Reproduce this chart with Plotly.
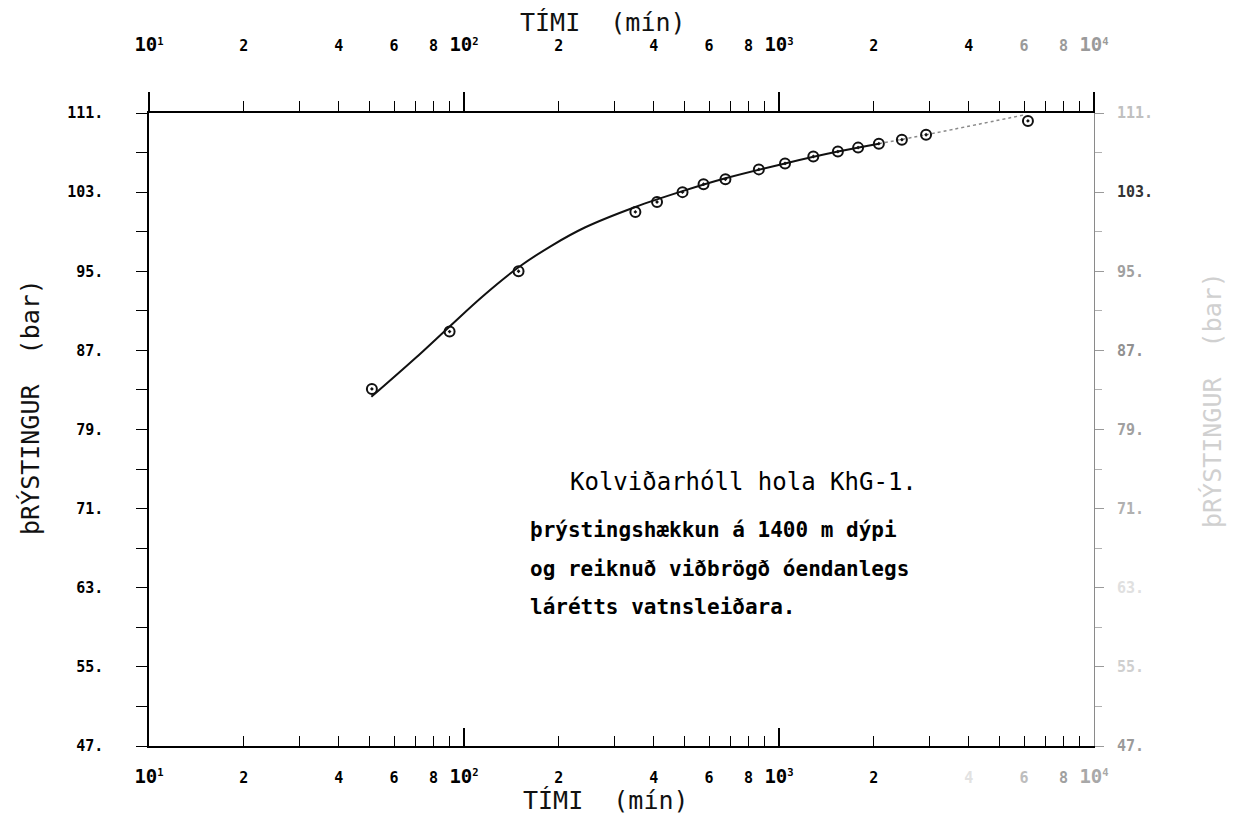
import plotly.graph_objects as go

# ---------------- data ----------------
time_min = [51, 90, 149, 350, 410, 494, 576, 676, 863, 1045, 1285, 1538, 1783, 2075, 2455, 2930, 6170]
pressure_bar = [83.1, 88.9, 95.0, 101.0, 102.0, 103.0, 103.8, 104.3, 105.3, 105.9,
                106.6, 107.1, 107.5, 107.9, 108.3, 108.8, 110.2]

model_time = [50.8, 70, 89.9, 115, 149, 190, 241, 350, 494, 676, 1045, 1538, 2075]
model_pressure = [82.3, 86.2, 89.4, 92.5, 95.4, 97.6, 99.4, 101.5, 103.1, 104.4, 105.9, 107.1, 107.9]

extrap_time = [2075, 2930, 5985]
extrap_pressure = [107.9, 108.8, 110.8]

x_tick_vals = [10, 20, 40, 60, 80, 100, 200, 400, 600, 800, 1000, 2000, 4000, 6000, 8000, 10000]
x_minor_vals = [30, 50, 70, 90, 300, 500, 700, 900, 3000, 5000, 7000, 9000]
x_decades = [10, 100, 1000, 10000]
x_tick_text_top = ["10<sup>1</sup>", "2", "4", "6", "8", "10<sup>2</sup>", "2", "4", "6", "8",
                   "10<sup>3</sup>", "2", "4", "6", "8", "10<sup>4</sup>"]
x_tick_text_bottom = list(x_tick_text_top)
top_label_colors = ["#000"] * 13 + ["#9a9a9a", "#9a9a9a", "#9a9a9a"]
bottom_label_colors = ["#000"] * 12 + ["#e2e2e2", "#bdbdbd", "#a0a0a0", "#a8a8a8"]

y_tick_vals = [47, 55, 63, 71, 79, 87, 95, 103, 111]
y_tick_text = ["47.", "55.", "63.", "71.", "79.", "87.", "95.", "103.", "111."]
y_minor_vals = [51, 59, 67, 75, 83, 91, 99, 107]
right_label_colors = ["#9a9a9a", "#cfcfcf", "#e0e0e0", "#b0b0b0", "#a0a0a0", "#909090",
                      "#a0a0a0", "#333333", "#c0c0c0"]

x_title = "TÍMI  (mín)"
y_title = "þRÝSTINGUR  (bar)"
note_title = "Kolviðarhóll hola KhG-1."
note_lines = ["þrýstingshækkun á 1400 m dýpi",
              "og reiknuð viðbrögð óendanlegs",
              "lárétts vatnsleiðara."]

# ---------------- helpers ----------------
def colored(texts, colors):
    out = []
    for t, c in zip(texts, colors):
        if t.startswith("10<sup>"):
            t = '<span style="font-size:19px">10</span>' + t[2:]
        out.append(f'<span style="color:{c}">{t}</span>')
    return out

MONO = "DejaVu Sans Mono"
W, H = 1235, 817
L, R, T, B = 149, 141, 113, 71
PW, PH = W - L - R, H - T - B

def px(x):
    return (x - L) / PW

def py(y):
    return (H - B - y) / PH

fig = go.Figure()

fig.add_trace(go.Scatter(
    x=model_time, y=model_pressure, mode="lines", line_shape="spline",
    line=dict(color="#111", width=2), showlegend=False, hoverinfo="skip"))
fig.add_trace(go.Scatter(
    x=extrap_time, y=extrap_pressure, mode="lines", line_shape="spline",
    line=dict(color="#8a8a8a", width=1.5, dash="dot"), showlegend=False, hoverinfo="skip"))
fig.add_trace(go.Scatter(
    x=time_min, y=pressure_bar, mode="markers", cliponaxis=False,
    marker=dict(symbol="circle-open-dot", size=10, color="#111", line=dict(width=2, color="#111")),
    showlegend=False))
# helper traces so that overlay axes are drawn
for xa, ya in [("x2", "y"), ("x3", "y"), ("x4", "y"), ("x", "y2")]:
    fig.add_trace(go.Scatter(x=[100], y=[80], xaxis=xa, yaxis=ya, mode="markers",
                             marker=dict(opacity=0), showlegend=False, hoverinfo="skip"))

tickfont = dict(family=MONO, size=15, color="#000", weight="bold")

common_x = dict(type="log", range=[1, 4], showgrid=False, zeroline=False)

fig.update_layout(
    width=W, height=H,
    margin=dict(l=L, r=R, t=T, b=B),
    paper_bgcolor="white", plot_bgcolor="white",
    xaxis=dict(**common_x, side="bottom", showline=True, linecolor="#000", linewidth=1.5,
               ticks="inside", ticklen=10, tickwidth=1.3, tickcolor="#000",
               tickmode="array", tickvals=x_tick_vals,
               ticktext=colored(x_tick_text_bottom, bottom_label_colors),
               tickfont=tickfont, ticklabelstandoff=17,
               minor=dict(tickmode="array", tickvals=x_minor_vals, ticks="inside",
                          ticklen=10, tickwidth=1.3, tickcolor="#000")),
    xaxis2=dict(**common_x, side="top", overlaying="x", anchor="y", showline=True,
                linecolor="#000", linewidth=1.5,
                ticks="outside", ticklen=10, tickwidth=1.3, tickcolor="#000",
                tickmode="array", tickvals=x_tick_vals,
                ticktext=colored(x_tick_text_top, top_label_colors),
                tickfont=tickfont, ticklabelstandoff=44,
                minor=dict(tickmode="array", tickvals=x_minor_vals, ticks="outside",
                           ticklen=10, tickwidth=1.3, tickcolor="#000")),
    xaxis3=dict(**common_x, side="bottom", overlaying="x", anchor="y", showline=False,
                ticks="inside", ticklen=18, tickwidth=1.5, tickcolor="#000",
                tickmode="array", tickvals=x_decades, showticklabels=False),
    xaxis4=dict(**common_x, side="top", overlaying="x", anchor="y", showline=False,
                ticks="outside", ticklen=20, tickwidth=1.5, tickcolor="#000",
                tickmode="array", tickvals=x_decades, showticklabels=False),
    yaxis=dict(range=[47, 111], side="left", showline=True, linecolor="#000", linewidth=1.5,
               showgrid=False, zeroline=False,
               ticks="outside", ticklen=11, tickwidth=1.3, tickcolor="#000",
               tickmode="array", tickvals=y_tick_vals, ticktext=y_tick_text,
               tickfont=tickfont, ticklabelstandoff=30,
               minor=dict(tickmode="array", tickvals=y_minor_vals, ticks="outside",
                          ticklen=11, tickwidth=1.3, tickcolor="#000")),
    yaxis2=dict(range=[47, 111], side="right", overlaying="y", anchor="x", showline=True,
                linecolor="#8a8a8a", linewidth=1, showgrid=False, zeroline=False,
                ticks="outside", ticklen=9, tickwidth=1, tickcolor="#9a9a9a",
                tickmode="array", tickvals=y_tick_vals,
                ticktext=colored(y_tick_text, right_label_colors),
                tickfont=tickfont, ticklabelstandoff=10,
                minor=dict(tickmode="array", tickvals=y_minor_vals, ticks="outside",
                           ticklen=7, tickwidth=1, tickcolor="#b0b0b0")),
)

title_font = dict(family=MONO, size=25, color="#111")
ann = [
    dict(text=x_title, x=px(603), y=py(22), font=title_font),
    dict(text=x_title, x=px(606), y=py(800), font=title_font),
    dict(text=y_title, x=px(30), y=py(407), textangle=-90, font=title_font),
    dict(text=y_title, x=px(1212), y=py(400), textangle=-90,
         font=dict(family=MONO, size=25, color="#d0d0d0")),
    dict(text=note_title, x=px(568), y=py(482), xanchor="left",
         font=dict(family=MONO, size=24, color="#000")),
]
for line, yy in zip(note_lines, [530, 569, 607]):
    ann.append(dict(text=line, x=px(528), y=py(yy), xanchor="left",
                    font=dict(family=MONO, size=21, color="#000", weight="bold")))
for a in ann:
    a.setdefault("xanchor", "center")
    a.update(xref="paper", yref="paper", yanchor="middle", showarrow=False)
fig.update_layout(annotations=ann)

fig.write_html("out.html", config={"displayModeBar": False},
               post_script="document.body.style.margin='0';document.body.style.overflow='hidden';")
